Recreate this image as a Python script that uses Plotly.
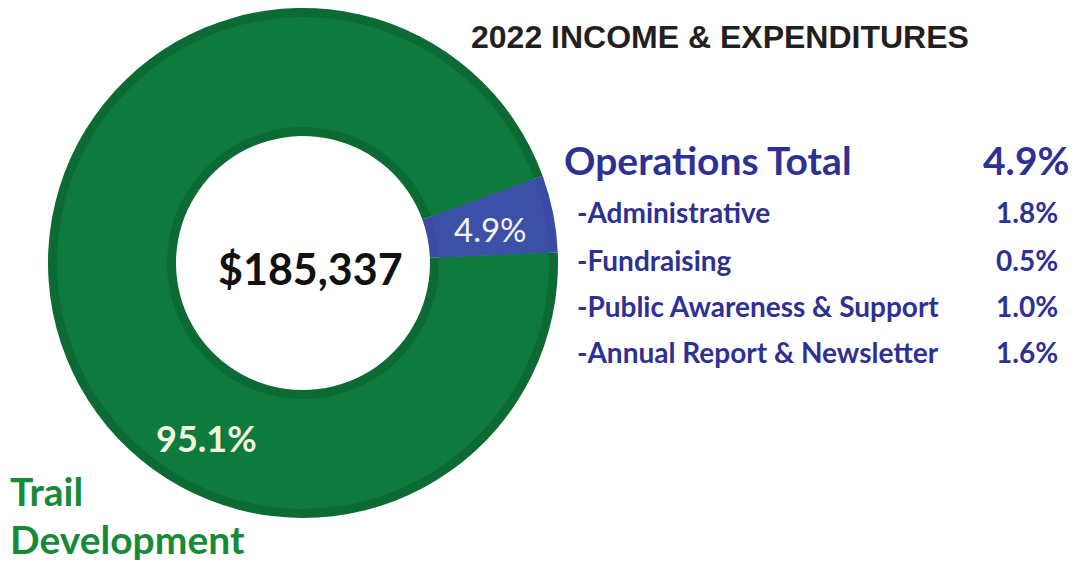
import plotly.graph_objects as go

# ---- data ----
title_text = "2022 INCOME & EXPENDITURES"
slice_labels = ["Operations Total", "Trail Development"]
slice_shares = [4.9, 95.1]
total_amount = 185337
item_labels = ["-Administrative", "-Fundraising", "-Public Awareness & Support", "-Annual Report & Newsletter"]
item_shares = [1.8, 0.5, 1.0, 1.6]

# ---- styles ----
W, H = 1076, 564
fill_colors = ["#3d50a8", "#0e7a3d"]
edge_colors = ["#394ba2", "#0c6a34"]
navy = "#2e3192"
green_text = "#178a3a"
FONT = "Lato"

def px(x):
    return x / W

def py(y):
    return 1 - y / H

cx, cy = 303, 263
R_out, R_in = 255, 127
band = 9

fig = go.Figure()
# outer (border) ring
fig.add_trace(go.Pie(
    labels=slice_labels, values=slice_shares, sort=False, direction="clockwise",
    rotation=70, hole=R_in / R_out, textinfo="none", hoverinfo="label+percent",
    marker=dict(colors=edge_colors, line=dict(width=0)),
    domain=dict(x=[px(cx - R_out), px(cx + R_out)], y=[py(cy + R_out), py(cy - R_out)]),
    showlegend=False,
))
# inner fill ring
r2o, r2i = R_out - band, R_in + band
fig.add_trace(go.Pie(
    labels=slice_labels, values=slice_shares, sort=False, direction="clockwise",
    rotation=70, hole=r2i / r2o, textinfo="none", hoverinfo="skip",
    marker=dict(colors=fill_colors, line=dict(width=0)),
    domain=dict(x=[px(cx - r2o), px(cx + r2o)], y=[py(cy + r2o), py(cy - r2o)]),
    showlegend=False,
))

ann = []
def add(text, x, y, size, color, xanchor="center", family=FONT, bold=True):
    ann.append(dict(
        text=f"<b>{text}</b>" if bold else text, x=px(x), y=py(y), xref="paper", yref="paper",
        xanchor=xanchor, yanchor="middle", showarrow=False,
        font=dict(family=family, size=size, color=color),
    ))

add(title_text, 720, 37, 32, "#231f20", family="Liberation Sans")
add(f"${total_amount:,}", 310, 268, 43, "#111111")
add(f"{slice_shares[0]}%", 490, 229, 33, "#f4f4f4", bold=False)
add(f"{slice_shares[1]}%", 206, 438, 36, "#f1f5dc")
add(slice_labels[0], 562, 160, 39, navy, xanchor="left")
add(f"{slice_shares[0]}%", 1071, 160, 39, navy, xanchor="right")
item_y = [212, 260, 306, 352]
for lab, val, yy in zip(item_labels, item_shares, item_y):
    add(lab, 575, yy, 28, navy, xanchor="left")
    add(f"{val:.1f}%", 1060, yy, 28, navy, xanchor="right")
words = slice_labels[1].split(" ")
add(words[0], 8, 491, 39, green_text, xanchor="left")
add(words[1], 8, 539, 39, green_text, xanchor="left")

fig.update_layout(
    width=W, height=H, margin=dict(l=0, r=0, t=0, b=0),
    paper_bgcolor="white", plot_bgcolor="white",
    annotations=ann, showlegend=False,
)
fig.write_html(
    "out.html",
    config={"displayModeBar": False},
    post_script="document.body.style.margin='0';document.body.style.overflow='hidden';",
)
